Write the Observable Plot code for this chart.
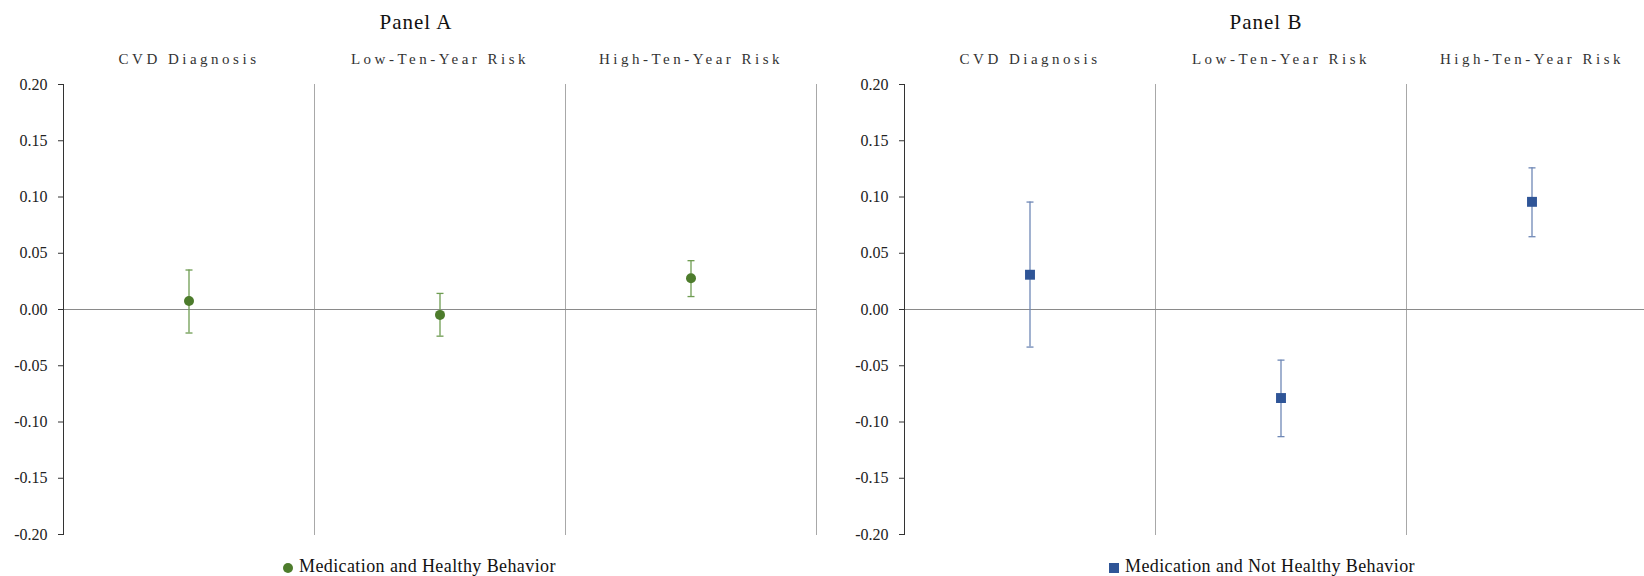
<!DOCTYPE html>
<html><head><meta charset="utf-8">
<script src="https://cdn.jsdelivr.net/npm/d3@7"></script>
<script src="https://cdn.jsdelivr.net/npm/@observablehq/plot@0.6"></script>
<style>
html,body{margin:0;padding:0;background:#fff;overflow:hidden;}
#root{position:relative;width:1644px;height:576px;overflow:hidden;color:#111;}
#root, #root *, #root svg text{font-family:"Liberation Serif","Times New Roman","DejaVu Serif",serif !important;}
.title{position:absolute;font-size:21px;letter-spacing:1px;white-space:nowrap;line-height:1;transform:translateX(-50%);}
.legend{position:absolute;font-size:18px;letter-spacing:0.4px;white-space:nowrap;line-height:1;display:flex;align-items:center;}
.mk{display:inline-block;width:10px;height:10px;margin-right:6px;position:relative;top:2px;}
.plotbox{position:absolute;top:36px;}
.plotbox svg{max-width:none !important;}
.plotbox svg [aria-label="fx-axis tick label"] text{letter-spacing:3.5px;}
</style>
</head><body>
<div id="root"></div>
<script>
// ---- data ----
const categories = ["CVD Diagnosis", "Low-Ten-Year Risk", "High-Ten-Year Risk"];
const yTicks = [-0.20, -0.15, -0.10, -0.05, 0.00, 0.05, 0.10, 0.15, 0.20];

const panelTitles = ["Panel A", "Panel B"];
const seriesNames = ["Medication and Healthy Behavior", "Medication and Not Healthy Behavior"];

const panelA_est = [0.0075, -0.0048, 0.0277];
const panelA_lo  = [-0.0209, -0.0237, 0.0115];
const panelA_hi  = [0.0351, 0.0143, 0.0434];

const panelB_est = [0.0309, -0.0787, 0.0957];
const panelB_lo  = [-0.0334, -0.1130, 0.0647];
const panelB_hi  = [0.0955, -0.0450, 0.1259];

// ---- drawing ----
const capSymbol = {
  draw(context, size) {
    const r = Math.sqrt(size / Math.PI);
    context.moveTo(-r, 0);
    context.lineTo(r, 0);
  }
};

function makePanel({est, lo, hi, color, barColor, symbol, r, width, marginLeft, marginRight}) {
  const rows = categories.map((c, i) => ({cat: c, est: est[i], lo: lo[i], hi: hi[i]}));
  return Plot.plot({
    width, height: 504,
    marginTop: 48, marginBottom: 6, marginLeft, marginRight,
    style: {fontFamily: "'Liberation Serif', serif", fontSize: "16px", color: "#222", background: "transparent", overflow: "visible", maxWidth: "none"},
    fx: {domain: categories, padding: 0, label: null},
    y: {domain: [-0.2, 0.2], label: null},
    marks: [
      Plot.frame({anchor: "right", stroke: "#a8a8a8", strokeWidth: 1}),
      Plot.ruleY([0], {stroke: "#8a8a8a", strokeWidth: 1.2}),
      Plot.frame({anchor: "left", facetAnchor: "left", stroke: "#333", strokeWidth: 1}),
      Plot.axisFx({anchor: "top", tickSize: 0, tickPadding: 21, fontSize: 15, label: null, fill: "#333"}),
      Plot.axisY({ticks: yTicks, tickFormat: d => d.toFixed(2), tickSize: 5, tickPadding: 11, label: null, stroke: "#333", fill: "#222", fontSize: 16}),
      Plot.ruleX(rows, {fx: "cat", x: null, y1: "lo", y2: "hi", stroke: barColor, strokeWidth: 1.3}),
      Plot.dot(rows, {fx: "cat", y: "lo", symbol: capSymbol, r: 3.5, stroke: barColor, strokeWidth: 1.3, fill: "none"}),
      Plot.dot(rows, {fx: "cat", y: "hi", symbol: capSymbol, r: 3.5, stroke: barColor, strokeWidth: 1.3, fill: "none"}),
      Plot.dot(rows, {fx: "cat", y: "est", symbol, r, fill: color, stroke: "none"})
    ]
  });
}

const root = document.getElementById("root");

function addPanel(left, cfg, title, titleX, legendName, legendLeft, mkRound) {
  const box = document.createElement("div");
  box.className = "plotbox";
  box.style.left = left + "px";
  box.style.width = cfg.width + "px";
  box.appendChild(makePanel(cfg));
  root.appendChild(box);

  const t = document.createElement("div");
  t.className = "title";
  t.style.left = titleX + "px";
  t.style.top = "12px";
  t.textContent = title;
  root.appendChild(t);

  const lg = document.createElement("div");
  lg.className = "legend";
  lg.style.left = legendLeft + "px";
  lg.style.top = "557px";
  const mk = document.createElement("span");
  mk.className = "mk";
  mk.style.background = cfg.color;
  if (mkRound) mk.style.borderRadius = "50%";
  lg.appendChild(mk);
  const tx = document.createElement("span");
  tx.textContent = legendName;
  lg.appendChild(tx);
  root.appendChild(lg);
}

addPanel(0, {est: panelA_est, lo: panelA_lo, hi: panelA_hi, color: "#4d7c2c", barColor: "#6f9d52",
  symbol: "circle", r: 5, width: 820, marginLeft: 63, marginRight: 4},
  panelTitles[0], 416, seriesNames[0], 283, true);

addPanel(820, {est: panelB_est, lo: panelB_lo, hi: panelB_hi, color: "#2f5597", barColor: "#6f88b6",
  symbol: "square", r: 5.6, width: 838, marginLeft: 84, marginRight: 1},
  panelTitles[1], 1266, seriesNames[1], 1109, false);
</script>
</body></html>
